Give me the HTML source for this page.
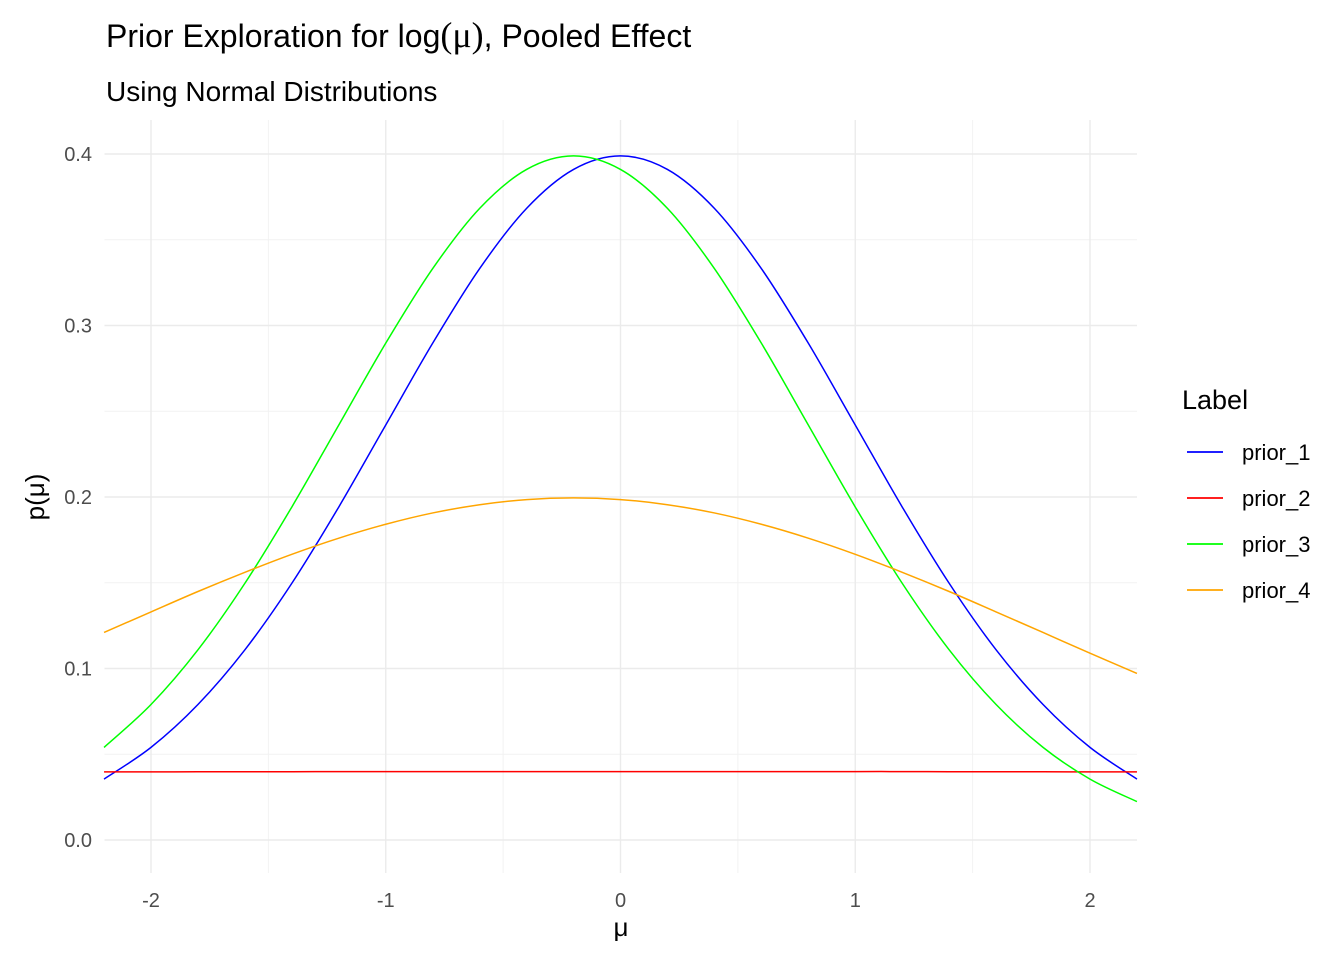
<!DOCTYPE html>
<html><head><meta charset="utf-8"><style>
body{margin:0;background:#fff}
svg text{font-family:"Liberation Sans",sans-serif}
</style></head><body>
<svg id="chart" width="1344" height="960" xmlns="http://www.w3.org/2000/svg">
<text x="106" y="47" font-size="32" fill="#000">Prior Exploration for log<tspan font-family="Liberation Serif" font-size="36">(μ)</tspan>, Pooled Effect</text>
<text x="106" y="101" font-size="28" fill="#000">Using Normal Distributions</text>
<g id="grid"></g>
<g id="series"></g>
<g id="ticks"></g>
<text x="621" y="936" font-size="26" text-anchor="middle" font-family="Liberation Serif">μ</text>
<text transform="translate(44,497) rotate(-90)" font-size="26" text-anchor="middle">p(μ)</text>
<g id="legend">
<text x="1182" y="409" font-size="27">Label</text>
</g>
</svg>
<script>
const xs=[-2.2,-2.0,-1.8,-1.6,-1.4,-1.2,-1.0,-0.8,-0.6,-0.4,-0.2,0,0.2,0.4,0.6,0.8,1.0,1.2,1.4,1.6,1.8,2.0,2.2];
const prior1=[.0355,.0540,.0790,.1109,.1497,.1942,.2420,.2897,.3332,.3683,.3910,.3989,.3910,.3683,.3332,.2897,.2420,.1942,.1497,.1109,.0790,.0540,.0355];
const prior2=[.0397,.0397,.0398,.0398,.0398,.0399,.0399,.0399,.0399,.0399,.0399,.0399,.0399,.0399,.0399,.0399,.0399,.0399,.0398,.0398,.0398,.0397,.0397];
const prior3=[.0540,.0790,.1109,.1497,.1942,.2420,.2897,.3332,.3683,.3910,.3989,.3910,.3683,.3332,.2897,.2420,.1942,.1497,.1109,.0790,.0540,.0355,.0224];
const prior4=[.1210,.1330,.1449,.1561,.1666,.1760,.1841,.1907,.1955,.1985,.1995,.1985,.1955,.1907,.1841,.1760,.1666,.1561,.1449,.1330,.1210,.1089,.0971];
const labels=["prior_1","prior_2","prior_3","prior_4"];
const colors=["#0000ff","#ff0000","#00ff00","#ffa500"];
const xTicks=[-2,-1,0,1,2];
const yTicks=[0,0.1,0.2,0.3,0.4];
const NS="http://www.w3.org/2000/svg";
const X=v=>620.5+v*234.75, Y=v=>840-v*1715;
const L=104.5,R=1137,T=120,B=873;
function mk(tag,attrs,parent){const e=document.createElementNS(NS,tag);for(const k in attrs)e.setAttribute(k,attrs[k]);parent.appendChild(e);return e;}
const grid=document.getElementById('grid'),ticks=document.getElementById('ticks'),ser=document.getElementById('series'),leg=document.getElementById('legend');
for(let i=0;i<xTicks.length-1;i++){const m=(xTicks[i]+xTicks[i+1])/2;const e=mk('line',{x1:X(m),x2:X(m),y1:T,y2:B,stroke:'#f2f2f2','stroke-width':1},grid);}
for(let i=0;i<yTicks.length-1;i++){const m=(yTicks[i]+yTicks[i+1])/2;const e=mk('line',{x1:L,x2:R,y1:Y(m),y2:Y(m),stroke:'#f2f2f2','stroke-width':1},grid);}
xTicks.forEach(v=>{const e=mk('line',{x1:X(v),x2:X(v),y1:T,y2:B,stroke:'#ebebeb','stroke-width':1.4},grid);
const t=mk('text',{x:X(v),y:907,'font-size':20,'text-anchor':'middle',fill:'#4d4d4d'},ticks);t.textContent=v;});
yTicks.forEach(v=>{const e=mk('line',{x1:L,x2:R,y1:Y(v),y2:Y(v),stroke:'#ebebeb','stroke-width':1.4},grid);
const t=mk('text',{x:92,y:Y(v)+7,'font-size':20,'text-anchor':'end',fill:'#4d4d4d'},ticks);t.textContent=v.toFixed(1);});
function pathOf(ys){const p=xs.map((x,i)=>[X(x),Y(ys[i])]);let d='M'+p[0][0]+','+p[0][1];
for(let i=0;i<p.length-1;i++){const p0=p[Math.max(0,i-1)],p1=p[i],p2=p[i+1],p3=p[Math.min(p.length-1,i+2)];
d+=' C'+(p1[0]+(p2[0]-p0[0])/6)+','+(p1[1]+(p2[1]-p0[1])/6)+' '+(p2[0]-(p3[0]-p1[0])/6)+','+(p2[1]-(p3[1]-p1[1])/6)+' '+p2[0]+','+p2[1];}return d;}
[prior1,prior2,prior3,prior4].forEach((ys,i)=>{const e=mk('path',{d:pathOf(ys),fill:'none',stroke:colors[i],'stroke-width':1.5},ser);
const y=452+i*46;const k=mk('line',{x1:1187,x2:1223,y1:y,y2:y,stroke:colors[i],'stroke-width':1.8},leg);
const t=mk('text',{x:1242,y:y+8,'font-size':22,fill:'#000'},leg);t.textContent=labels[i];});
</script>
</body></html>
